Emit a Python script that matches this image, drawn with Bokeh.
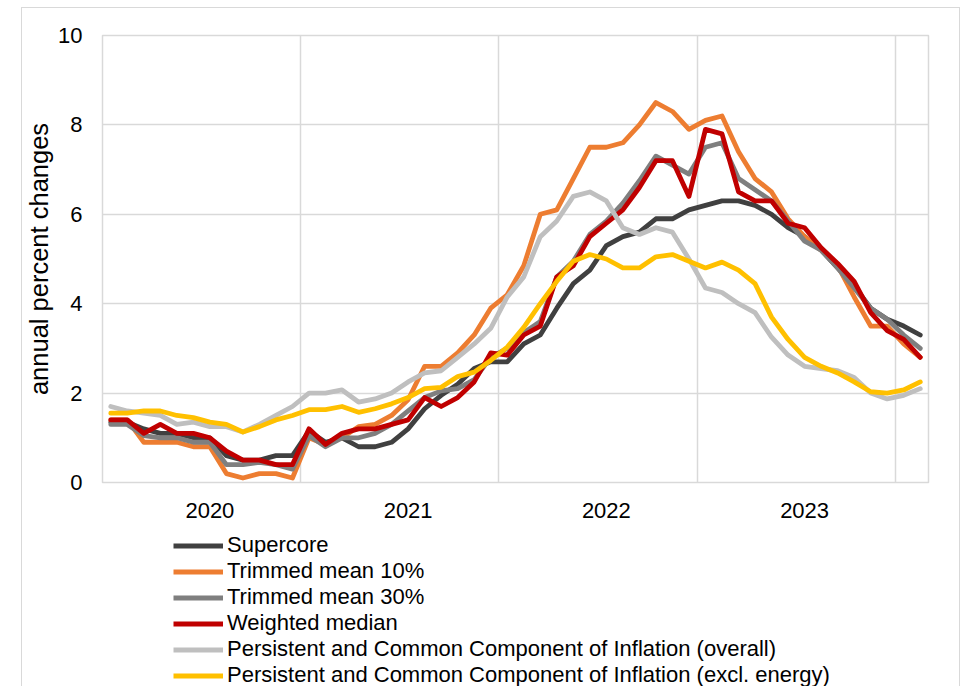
from bokeh.plotting import figure
from bokeh.layouts import column
from bokeh.models import Range1d, FixedTicker, Legend, LegendItem
from bokeh.embed import file_html
from bokeh.resources import INLINE

# Monthly data, Jan 2020 .. Feb 2024 (annual percent changes)
years = ["2020", "2021", "2022", "2023"]

supercore = [1.35, 1.35, 1.2, 1.1, 1.1, 1.0, 1.0, 0.6, 0.5, 0.5, 0.6, 0.6,
             1.15, 0.9, 1.0, 0.8, 0.8, 0.9, 1.2, 1.65, 1.95, 2.2, 2.55, 2.7,
             2.7, 3.1, 3.3, 3.9, 4.45, 4.75, 5.3, 5.5, 5.6, 5.9, 5.9, 6.1,
             6.2, 6.3, 6.3, 6.2, 6.0, 5.7, 5.5, 5.2, 4.8, 4.4, 3.9, 3.65,
             3.5, 3.3]
trimmed10 = [1.4, 1.4, 0.9, 0.9, 0.9, 0.8, 0.8, 0.2, 0.1, 0.2, 0.2, 0.1,
             1.0, 0.85, 1.0, 1.25, 1.3, 1.5, 1.85, 2.6, 2.6, 2.9, 3.3, 3.9,
             4.2, 4.85, 6.0, 6.1, 6.8, 7.5, 7.5, 7.6, 8.0, 8.5, 8.3, 7.9,
             8.1, 8.2, 7.4, 6.8, 6.5, 5.9, 5.5, 5.2, 4.85, 4.15, 3.5, 3.5,
             3.1, 2.8]
trimmed30 = [1.3, 1.3, 1.05, 1.0, 1.0, 0.9, 0.9, 0.4, 0.4, 0.45, 0.4, 0.3,
             1.05, 0.8, 1.0, 1.0, 1.1, 1.3, 1.6, 1.9, 2.05, 2.1, 2.3, 2.8,
             3.0, 3.35, 3.6, 4.6, 4.95, 5.55, 5.85, 6.25, 6.75, 7.3, 7.1, 6.9,
             7.5, 7.6, 6.8, 6.55, 6.3, 5.85, 5.4, 5.2, 4.8, 4.35, 3.9, 3.65,
             3.3, 3.0]
wmedian = [1.4, 1.4, 1.1, 1.3, 1.1, 1.1, 1.0, 0.7, 0.5, 0.5, 0.4, 0.4,
           1.2, 0.85, 1.1, 1.2, 1.2, 1.3, 1.4, 1.9, 1.7, 1.9, 2.25, 2.9,
           2.85, 3.3, 3.5, 4.6, 4.85, 5.5, 5.8, 6.1, 6.6, 7.2, 7.2, 6.4,
           7.9, 7.8, 6.5, 6.3, 6.3, 5.8, 5.7, 5.25, 4.9, 4.5, 3.8, 3.4,
           3.2, 2.8]
pcci = [1.7, 1.6, 1.55, 1.5, 1.3, 1.35, 1.25, 1.25, 1.13, 1.3, 1.5, 1.7,
        2.0, 2.0, 2.07, 1.8, 1.87, 2.0, 2.25, 2.45, 2.5, 2.8, 3.1, 3.45,
        4.15, 4.6, 5.5, 5.85, 6.4, 6.5, 6.3, 5.7, 5.55, 5.7, 5.6, 5.0,
        4.35, 4.25, 4.0, 3.8, 3.25, 2.85, 2.6, 2.55, 2.5, 2.35, 2.0, 1.87,
        1.95, 2.1]
pcci_xe = [1.55, 1.55, 1.6, 1.6, 1.5, 1.45, 1.35, 1.3, 1.13, 1.25, 1.4, 1.5,
           1.63, 1.63, 1.7, 1.57, 1.65, 1.76, 1.9, 2.1, 2.13, 2.37, 2.47, 2.73,
           3.03, 3.47, 4.0, 4.5, 4.95, 5.1, 5.0, 4.8, 4.8, 5.05, 5.1, 4.95,
           4.8, 4.93, 4.75, 4.45, 3.7, 3.2, 2.8, 2.6, 2.45, 2.25, 2.03, 2.0,
           2.07, 2.25]

series_names = ["Supercore", "Trimmed mean 10%", "Trimmed mean 30%", "Weighted median",
                "Persistent and Common Component of Inflation (overall)",
                "Persistent and Common Component of Inflation (excl. energy)"]
series_values = [supercore, trimmed10, trimmed30, wmedian, pcci, pcci_xe]
series_colors = ["#404040", "#ED7D31", "#7F7F7F", "#C00000", "#BFBFBF", "#FFC000"]

FONT = "Liberation Sans"
FS = "22px"
LW = 4.8

n = len(supercore)
x = list(range(n))

# ---------------- main chart ----------------
p = figure(width=937, height=519, output_backend="svg", toolbar_location=None,
           x_range=Range1d(-0.5, n - 0.5), y_range=Range1d(0, 10),
           min_border_left=78, min_border_right=31, min_border_top=27, min_border_bottom=45)
p.background_fill_color = "white"
p.border_fill_color = "white"
p.outline_line_color = "#D9D9D9"
p.outline_line_width = 1.5

for vals, col in zip(series_values, series_colors):
    p.line(x, vals, line_color=col, line_width=LW, line_join="round", line_cap="round")

# x axis: year labels centred in each year, gridlines at year boundaries
label_pos = [12 * k + 6 for k in range(len(years))]
p.xaxis.ticker = FixedTicker(ticks=label_pos)
p.xaxis.major_label_overrides = {pos: yr for pos, yr in zip(label_pos, years)}
p.xgrid.ticker = FixedTicker(ticks=[12 * k - 0.5 for k in range(1, len(years) + 1)])
p.xaxis.major_tick_line_color = None
p.xaxis.minor_tick_line_color = None
p.xaxis.axis_line_color = None
p.xaxis.major_label_standoff = 14

p.yaxis.ticker = FixedTicker(ticks=[0, 2, 4, 6, 8, 10])
p.yaxis.major_tick_line_color = None
p.yaxis.minor_tick_line_color = None
p.yaxis.axis_line_color = None
p.yaxis.major_label_standoff = 14
p.yaxis.axis_label = "annual percent changes"
p.yaxis.axis_label_standoff = 2
p.yaxis.axis_label_text_font_style = "normal"

for ax in (p.xaxis, p.yaxis):
    ax.major_label_text_font = FONT
    ax.major_label_text_font_size = FS
    ax.major_label_text_color = "black"
    ax.axis_label_text_font = FONT
    ax.axis_label_text_font_size = "25.5px"
    ax.axis_label_text_color = "black"

p.xgrid.grid_line_color = "#D9D9D9"
p.ygrid.grid_line_color = "#D9D9D9"
p.xgrid.grid_line_width = 1.5
p.ygrid.grid_line_width = 1.5

# ---------------- legend panel below ----------------
lg = figure(width=937, height=159, output_backend="svg", toolbar_location=None,
            x_range=Range1d(0, 1), y_range=Range1d(0, 1),
            x_axis_type=None, y_axis_type=None,
            min_border_left=0, min_border_right=0, min_border_top=0, min_border_bottom=0)
lg.outline_line_color = None
lg.background_fill_color = "white"
lg.border_fill_color = "white"
lg.grid.visible = False

items = []
for name, vals, col in zip(series_names, series_values, series_colors):
    r = lg.line(x, vals, line_color=col, line_width=LW, visible=False)
    items.append(LegendItem(label=name, renderers=[r]))

legend = Legend(items=items, location=(71, -2), orientation="vertical",
                label_text_font=FONT, label_text_font_size=FS, label_text_color="black",
                glyph_width=50, glyph_height=25, label_height=25, label_standoff=4,
                spacing=0, padding=0, margin=0, click_policy="none",
                inactive_fill_alpha=0,
                border_line_color=None, background_fill_alpha=0)
lg.add_layout(legend, "center")

layout = column(p, lg, spacing=0,
                styles={"margin-left": "21px", "margin-top": "7px",
                        "border-top": "1px solid #D9D9D9",
                        "border-left": "1px solid #D9D9D9",
                        "border-right": "1px solid #D9D9D9"})

open("out.html", "w").write(file_html(layout, INLINE))
